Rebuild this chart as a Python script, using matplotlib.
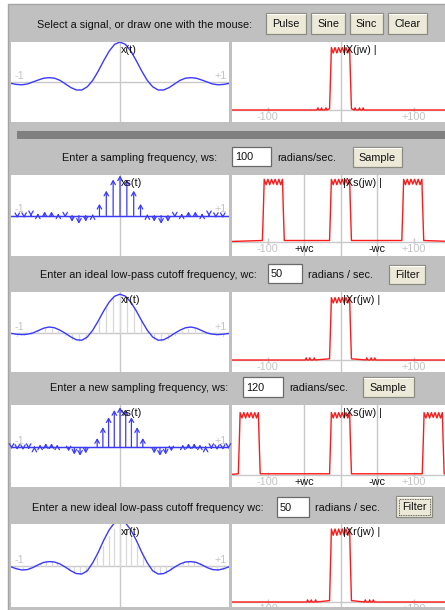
import numpy as np
import matplotlib
matplotlib.use('Agg')
import matplotlib.pyplot as plt
from matplotlib.patches import Rectangle

plt.rcParams['font.family'] = ['Liberation Sans', 'DejaVu Sans']

W, H = 445, 610
FS = 7.8
BLUE = '#3a3aff'
RED = '#ff1a1a'
AXIS = '#c8c8c8'
LABEL = '#c4c4c4'

# signal x(t), t = 0, 0.05 ... 1.0 (mirrored for t < 0)
t_half = np.arange(0, 1.0001, 0.05)
x_half = [1.0, 0.94, 0.77, 0.53, 0.27, 0.04, -0.12, -0.20, -0.20, -0.14, -0.05,
          0.04, 0.095, 0.108, 0.095, 0.05, 0.0, -0.05, -0.07, -0.06, -0.035]
# reconstructed signals
xr1_half = [0.97, 0.92, 0.77, 0.55, 0.30, 0.07, -0.10, -0.18, -0.17, -0.10, -0.01,
            0.07, 0.13, 0.15, 0.12, 0.06, 0.0, -0.03, -0.04, -0.03, -0.01]
xr2_half = [1.15, 1.08, 0.90, 0.64, 0.34, 0.08, -0.12, -0.20, -0.19, -0.12, -0.03,
            0.05, 0.10, 0.11, 0.09, 0.03, -0.04, -0.09, -0.10, -0.07, -0.02]

# sample values x(n*2pi/ws), n >= 0
ws1 = 100
xs1_half = [1.0, 0.9, 0.62, 0.29, 0.03, -0.15, -0.205, -0.155, -0.05, 0.05, 0.10,
            0.10, 0.05, -0.015, -0.06, -0.065]
ws2 = 120
xs2_half = [1.0, 0.93, 0.75, 0.50, 0.23, 0.0, -0.15, -0.21, -0.18, -0.10, 0.0,
            0.07, 0.10, 0.10, 0.07, 0.015, -0.04, -0.067, -0.062, -0.037]
wc = 50

# one copy of the band-limited spectrum (offset from copy centre, magnitude)
band_w = [-15, -13.5, -12.5, -10, -7.5, -5, -2.5, 0, 2.5, 5, 7.5, 10, 12.5, 13.5, 15]
band_m = [0.02, 0.6, 1.04, 0.95, 1.04, 0.95, 1.04, 0.96, 1.04, 0.95, 1.04, 0.95,
          1.04, 0.6, 0.02]
centres_x = [0]
centres_xs1 = [-92, 0, 99]
centres_xs2 = [-125, 0, 127]
bumps_x = [-31, -26, -20, 20, 26, 31]
bumps_xr1 = [-47, -42, -36, 36, 42, 47]
bumps_xr2 = [-45, -40, -34, 34, 40, 45]
gain_xr2 = 1.17

# row layout in pixels: plot top, bottom, left-plot zero line, right-plot zero line
row_top = [42, 175, 292, 405, 524]
row_bot = [122, 256, 372, 487, 607]
row_mid = [82, 215.5, 333, 447.3, 566]
row_base = [110, 241.7, 360, 475, 602]


def mirror(half):
    half = np.asarray(half, dtype=float)
    return np.concatenate([half[:0:-1], half])


def sample_times(ws, n):
    k = np.arange(n)
    ts = k * 2 * np.pi / ws
    return np.concatenate([-ts[:0:-1], ts])


def spectrum(centres, bumps, gain=1.0):
    pts = [(-160, 0.0), (160, 0.0)]
    for c in centres:
        pts += [(c + w, m * gain) for w, m in zip(band_w, band_m)]
    for b in bumps:
        pts += [(b - 1.2, 0.0), (b, 0.035), (b + 1.2, 0.0)]
    pts.sort()
    return np.array(pts).T


fig = plt.figure(figsize=(W / 100, H / 100), dpi=100)
fig.patch.set_facecolor('white')


def px(x, y):
    return x / W, 1 - y / H


def rect(x0, y0, x1, y1, fc, ec='none', lw=0.8, z=1, **kw):
    r = Rectangle(px(x0, y1), (x1 - x0) / W, (y1 - y0) / H, transform=fig.transFigure,
                  facecolor=fc, edgecolor=ec, lw=lw, zorder=z, **kw)
    fig.add_artist(r)


def label(x, y, s, ha='left', color='#111111', size=FS):
    fig.text(*px(x, y + 0.8), s, ha=ha, va='center', color=color, fontsize=size, zorder=4)


def button(x0, y0, x1, y1, s, focus=False):
    rect(x0, y0, x1, y1, '#ece9d8', '#8a8a80', lw=0.9, z=2)
    fig.add_artist(plt.Line2D([x0 / W + 0.002, x1 / W - 0.002], [1 - (y0 + 1.2) / H] * 2,
                              transform=fig.transFigure, color='white', lw=0.8, zorder=3))
    if focus:
        rect(x0 + 2.5, y0 + 2.5, x1 - 2.5, y1 - 2.5, 'none', '#333333', lw=0.6, z=3,
             ls=(0, (1, 1)))
    label((x0 + x1) / 2, (y0 + y1) / 2, s, ha='center')


def textbox(x0, y0, x1, y1, s):
    rect(x0, y0, x1, y1, 'white', '#6a6a6a', lw=0.9, z=2)
    label(x0 + 3, (y0 + y1) / 2, s)


# panel background
rect(8, 4, W + 2, H + 2, '#c0c0c0', '#a4a4a4', lw=1.0, z=-2)
rect(17, 131, W + 2, 139, '#808080', z=-1)

# control rows
label(37, 24, 'Select a signal, or draw one with the mouse:')
button(266, 13, 306, 34, 'Pulse')
button(311, 13, 345, 34, 'Sine')
button(350, 13, 383, 34, 'Sinc')
button(388, 13, 427, 34, 'Clear')

label(62, 157, 'Enter a sampling frequency, ws:')
textbox(232, 147, 271, 166, str(ws1))
label(277, 157, 'radians/sec.')
button(353, 147, 402, 167, 'Sample')

label(39.5, 274, 'Enter an ideal low-pass cutoff frequency, wc:')
textbox(268, 264, 302, 283, str(wc))
label(308, 274, 'radians / sec.')
button(389, 265, 425, 284, 'Filter')

label(50, 387, 'Enter a new sampling frequency, ws:')
textbox(243, 377, 283, 397, str(ws2))
label(289, 387, 'radians/sec.')
button(363, 377, 414, 397, 'Sample')

label(32, 507, 'Enter a new ideal low-pass cutoff frequency wc:')
textbox(277, 497, 309, 517, str(wc))
label(315, 507, 'radians / sec.')
button(396, 496, 432, 517, 'Filter', focus=True)


def plot_axes(x0, y0, x1, y1):
    ax = fig.add_axes([x0 / W, 1 - y1 / H, (x1 - x0) / W, (y1 - y0) / H])
    ax.set_zorder(1.5)
    ax.set_facecolor('white')
    for sp in ax.spines.values():
        sp.set_visible(False)
    ax.set_xticks([])
    ax.set_yticks([])
    return ax


def time_plot(r, name):
    top, bot, mid = row_top[r], row_bot[r], row_mid[r]
    ax = plot_axes(11, top, 229, bot)
    ax.set_xlim(-1, 1)
    ax.set_ylim(-(bot - mid) / 40, (mid - top) / 40)
    ax.axhline(0, color=AXIS, lw=1)
    ax.axvline(0, color=AXIS, lw=1)
    ax.text(0.015, 0.16, '-1', transform=ax.get_yaxis_transform(), color=LABEL,
            fontsize=FS, ha='left', va='center')
    ax.text(0.99, 0.16, '+1', transform=ax.get_yaxis_transform(), color=LABEL,
            fontsize=FS, ha='right', va='center')
    ax.text(0.005, 1 - 8 / (bot - top), name, transform=ax.get_xaxis_transform(),
            fontsize=FS, color='#111111', ha='left', va='center', zorder=5)
    return ax


def freq_plot(r, name, wc_lines=False):
    top, bot, base = row_top[r], row_bot[r], row_base[r]
    ax = plot_axes(232, top, 450, bot)
    ax.set_xlim((232 - 340.5) / 0.73, (450 - 340.5) / 0.73)
    ax.set_ylim(-(bot - base) / 60, (base - top) / 60)
    ax.axhline(0, color=AXIS, lw=1)
    ax.axvline(0, color=AXIS, lw=1)
    ax.vlines([-100, 100], -0.03, 0.055, color=AXIS, lw=1)
    ylab = -7 / 60
    ax.text(-100, ylab, '-100', color=LABEL, fontsize=FS, ha='center', va='center',
            clip_on=True)
    ax.text(100, ylab, '+100', color=LABEL, fontsize=FS, ha='center', va='center',
            clip_on=True)
    if wc_lines:
        ax.axvline(-wc, color=AXIS, lw=1)
        ax.axvline(wc, color=AXIS, lw=1)
        ax.text(-wc, ylab, '+wc', color='#111111', fontsize=FS, ha='center', va='center')
        ax.text(wc, ylab, '-wc', color='#111111', fontsize=FS, ha='center', va='center')
    ax.text(3, (base - top - 8) / 60, name, fontsize=FS, color='#111111',
            ha='left', va='center', zorder=5)
    return ax


def stems(ax, ts, vs, color, arrows):
    for t, v in zip(ts, vs):
        if arrows:
            ax.annotate('', xy=(t, v), xytext=(t, 0),
                        arrowprops=dict(arrowstyle='->,head_length=0.28,head_width=0.16',
                                        color=color, lw=0.9, shrinkA=0, shrinkB=0,
                                        mutation_scale=10))
        else:
            ax.plot([t, t], [0, v], color=color, lw=0.9)


t_full = mirror(t_half) * np.r_[-np.ones(20), np.ones(21)]

# row 1
ax = time_plot(0, 'x(t)')
ax.plot(t_full, mirror(x_half), color=BLUE, lw=1)
ax = freq_plot(0, '|X(jw) |')
ax.plot(*spectrum(centres_x, bumps_x), color=RED, lw=1)

# row 2
ax = time_plot(1, 'xs(t)')
ax.axhline(0, color=BLUE, lw=1)
stems(ax, sample_times(ws1, len(xs1_half)), mirror(xs1_half), BLUE, True)
ax = freq_plot(1, '|Xs(jw) |', wc_lines=True)
ax.plot(*spectrum(centres_xs1, []), color=RED, lw=1)

# row 3
ax = time_plot(2, 'xr(t)')
stems(ax, sample_times(ws1, len(xs1_half)), mirror(xs1_half), '#d8d8d8', False)
ax.plot(t_full, mirror(xr1_half), color=BLUE, lw=1)
ax = freq_plot(2, '|Xr(jw) |')
ax.plot(*spectrum(centres_x, bumps_xr1), color=RED, lw=1)

# row 4
ax = time_plot(3, 'xs(t)')
ax.axhline(0, color=BLUE, lw=1)
stems(ax, sample_times(ws2, len(xs2_half)), mirror(xs2_half), BLUE, True)
ax = freq_plot(3, '|Xs(jw) |', wc_lines=True)
ax.plot(*spectrum(centres_xs2, []), color=RED, lw=1)

# row 5
ax = time_plot(4, 'xr(t)')
stems(ax, sample_times(ws2, len(xs2_half)), mirror(xs2_half), '#d8d8d8', False)
ax.plot(t_full, mirror(xr2_half), color=BLUE, lw=1)
ax = freq_plot(4, '|Xr(jw) |')
ax.plot(*spectrum(centres_x, bumps_xr2, gain_xr2), color=RED, lw=1)

fig.savefig('out.png', dpi=100, facecolor=fig.get_facecolor())
